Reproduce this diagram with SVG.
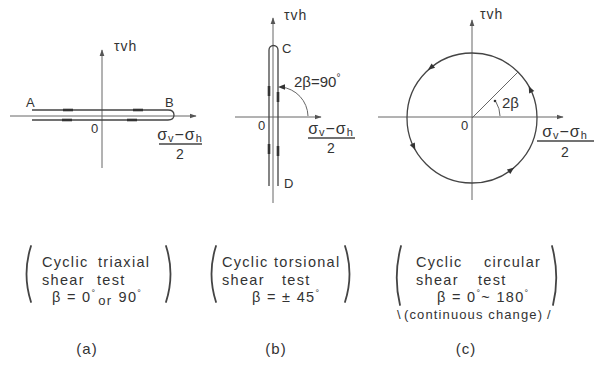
<svg xmlns="http://www.w3.org/2000/svg" xmlns:xlink="http://www.w3.org/1999/xlink" width="602" height="365" viewBox="0 0 602 365">
<defs>
<style>
.ax{stroke:#666;stroke-width:1;fill:none}
.ln{stroke:#444;stroke-width:1.3;fill:none}
.thk{stroke:#333;stroke-width:2.6}
.t{font-family:"Liberation Sans","DejaVu Sans",sans-serif;fill:#333}
.lab{font-size:13px}
.tau{font-size:14px;letter-spacing:1px}
.frac{font-size:16px;letter-spacing:1px}
.body{font-size:14.5px;letter-spacing:1.3px}
.par{stroke:#444;stroke-width:1.8;fill:none;stroke-linecap:round}
</style>
<marker id="arr" viewBox="0 0 10 10" refX="9" refY="5" markerWidth="7" markerHeight="7" orient="auto" markerUnits="userSpaceOnUse">
<path d="M0,1.5 L10,5 L0,8.5 Z" fill="#555"/>
</marker>
<path id="ah" d="M4,0 L-3,-2.8 L-3,2.8 Z" fill="#333"/>
</defs>
<rect width="602" height="365" fill="#fff"/>

<g id="panel-a">
<line class="ax" x1="102" y1="168" x2="102" y2="50" marker-end="url(#arr)"/>
<line class="ax" x1="10" y1="116" x2="196" y2="116" marker-end="url(#arr)"/>
<path class="ln" d="M32,110 L168,110 Q174,110 174,115 Q174,120 168,120 L32,120"/>
<line class="thk" x1="63" y1="110" x2="73" y2="110"/>
<line class="thk" x1="133" y1="110" x2="143" y2="110"/>
<line class="thk" x1="62" y1="120" x2="72" y2="120"/>
<line class="thk" x1="127" y1="120" x2="137" y2="120"/>
<text class="t tau" x="114" y="51">τvh</text>
<text class="t lab" x="26" y="107">A</text>
<text class="t lab" x="165" y="107">B</text>
<text class="t lab" x="91" y="133">0</text>
<text class="t frac" x="180" y="140" text-anchor="middle">σ<tspan font-size="11" dy="2">v</tspan><tspan dy="-2">−σ</tspan><tspan font-size="11" dy="2">h</tspan></text>
<line x1="159" y1="144" x2="202" y2="144" stroke="#444" stroke-width="1.5"/>
<text class="t" font-size="14" x="180" y="159" text-anchor="middle">2</text>
</g>

<g id="panel-b">
<line class="ax" x1="273" y1="203" x2="273" y2="18" marker-end="url(#arr)"/>
<line class="ax" x1="235" y1="117" x2="321" y2="117" marker-end="url(#arr)"/>
<path class="ln" d="M269,186 L269,50 A4.5,4.5 0 0 1 278,50 L278,186"/>
<line class="thk" x1="269" y1="86" x2="269" y2="96"/>
<line class="thk" x1="278" y1="92" x2="278" y2="102"/>
<line class="thk" x1="269" y1="144" x2="269" y2="154"/>
<line class="thk" x1="278" y1="146" x2="278" y2="156"/>
<path class="ax" d="M281,87 A30,30 0 0 1 308,116"/>
<use xlink:href="#ah" transform="translate(282,87) rotate(180)"/>
<text class="t tau" x="284" y="20">τvh</text>
<text class="t lab" x="282" y="53">C</text>
<text class="t lab" x="284" y="188">D</text>
<text class="t lab" x="258" y="130">0</text>
<text class="t" font-size="15" x="294" y="87">2β=90<tspan font-size="10" dy="-6">°</tspan></text>
<text class="t frac" x="331" y="134" text-anchor="middle">σ<tspan font-size="11" dy="2">v</tspan><tspan dy="-2">−σ</tspan><tspan font-size="11" dy="2">h</tspan></text>
<line x1="308" y1="138" x2="355" y2="138" stroke="#444" stroke-width="1.5"/>
<text class="t" font-size="14" x="331" y="153" text-anchor="middle">2</text>
</g>

<g id="panel-c">
<line class="ax" x1="472" y1="200" x2="472" y2="20" marker-end="url(#arr)"/>
<line class="ax" x1="378" y1="117" x2="563" y2="117" marker-end="url(#arr)"/>
<circle class="ln" cx="472" cy="118" r="65"/>
<line class="ax" x1="472" y1="118" x2="518" y2="72"/>
<path class="ax" d="M496,102 A28,28 0 0 1 500,116"/>
<circle cx="495" cy="101" r="1.3" fill="#333"/>
<use xlink:href="#ah" transform="translate(431,67.5) rotate(141)"/>
<use xlink:href="#ah" transform="translate(413.6,146.5) rotate(64)"/>
<use xlink:href="#ah" transform="translate(511,170) rotate(-37)"/>
<use xlink:href="#ah" transform="translate(530.4,89.5) rotate(-116)"/>
<text class="t tau" x="480" y="19">τvh</text>
<text class="t lab" x="461" y="130">0</text>
<text class="t" font-size="15" x="502" y="108">2β</text>
<text class="t frac" x="565" y="137" text-anchor="middle">σ<tspan font-size="11" dy="2">v</tspan><tspan dy="-2">−σ</tspan><tspan font-size="11" dy="2">h</tspan></text>
<line x1="537" y1="141" x2="594" y2="141" stroke="#444" stroke-width="1.5"/>
<text class="t" font-size="14" x="565" y="157" text-anchor="middle">2</text>
</g>

<g id="caption-a">
<path class="par" d="M31,246 Q22,274 31,302"/>
<path class="par" d="M166,246 Q175,274 166,302"/>
<text class="t body" x="42" y="267">Cyclic</text>
<text class="t body" x="98" y="267">triaxial</text>
<text class="t body" x="42" y="285">shear</text>
<text class="t body" x="97" y="285">test</text>
<text class="t body" x="52" y="302">β = 0<tspan font-size="9" dy="-6">°</tspan><tspan dy="9" font-size="13" dx="2">or</tspan><tspan dy="-3" dx="6">90</tspan><tspan font-size="9" dy="-6">°</tspan></text>
<text class="t" font-size="15" x="87" y="354" text-anchor="middle" letter-spacing="1">(a)</text>
</g>

<g id="caption-b">
<path class="par" d="M216,246 Q207,274 216,302"/>
<path class="par" d="M345,246 Q354,274 345,302"/>
<text class="t body" x="222" y="267">Cyclic</text>
<text class="t body" x="274" y="267">torsional</text>
<text class="t body" x="222" y="285">shear</text>
<text class="t body" x="282" y="285">test</text>
<text class="t body" x="252" y="302">β = ± 45<tspan font-size="9" dy="-6">°</tspan></text>
<text class="t" font-size="15" x="276" y="354" text-anchor="middle" letter-spacing="1">(b)</text>
</g>

<g id="caption-c">
<path class="par" d="M401,246 Q393,276 400,305"/>
<path class="par" d="M552,246 Q560,276 553,305"/>
<text class="t body" x="416" y="267">Cyclic</text>
<text class="t body" x="484" y="267">circular</text>
<text class="t body" x="416" y="285">shear</text>
<text class="t body" x="478" y="285">test</text>
<text class="t body" x="437" y="302">β = 0<tspan font-size="9" dy="-6">°</tspan><tspan dy="6">~ 180</tspan><tspan font-size="9" dy="-6">°</tspan></text>
<text class="t" font-size="13" x="397" y="319">\</text>
<text class="t" font-size="13" x="404" y="319" textLength="138" lengthAdjust="spacing">(continuous change)</text>
<text class="t" font-size="13" x="547" y="319">/</text>
<text class="t" font-size="15" x="466" y="354" text-anchor="middle" letter-spacing="1">(c)</text>
</g>
</svg>
